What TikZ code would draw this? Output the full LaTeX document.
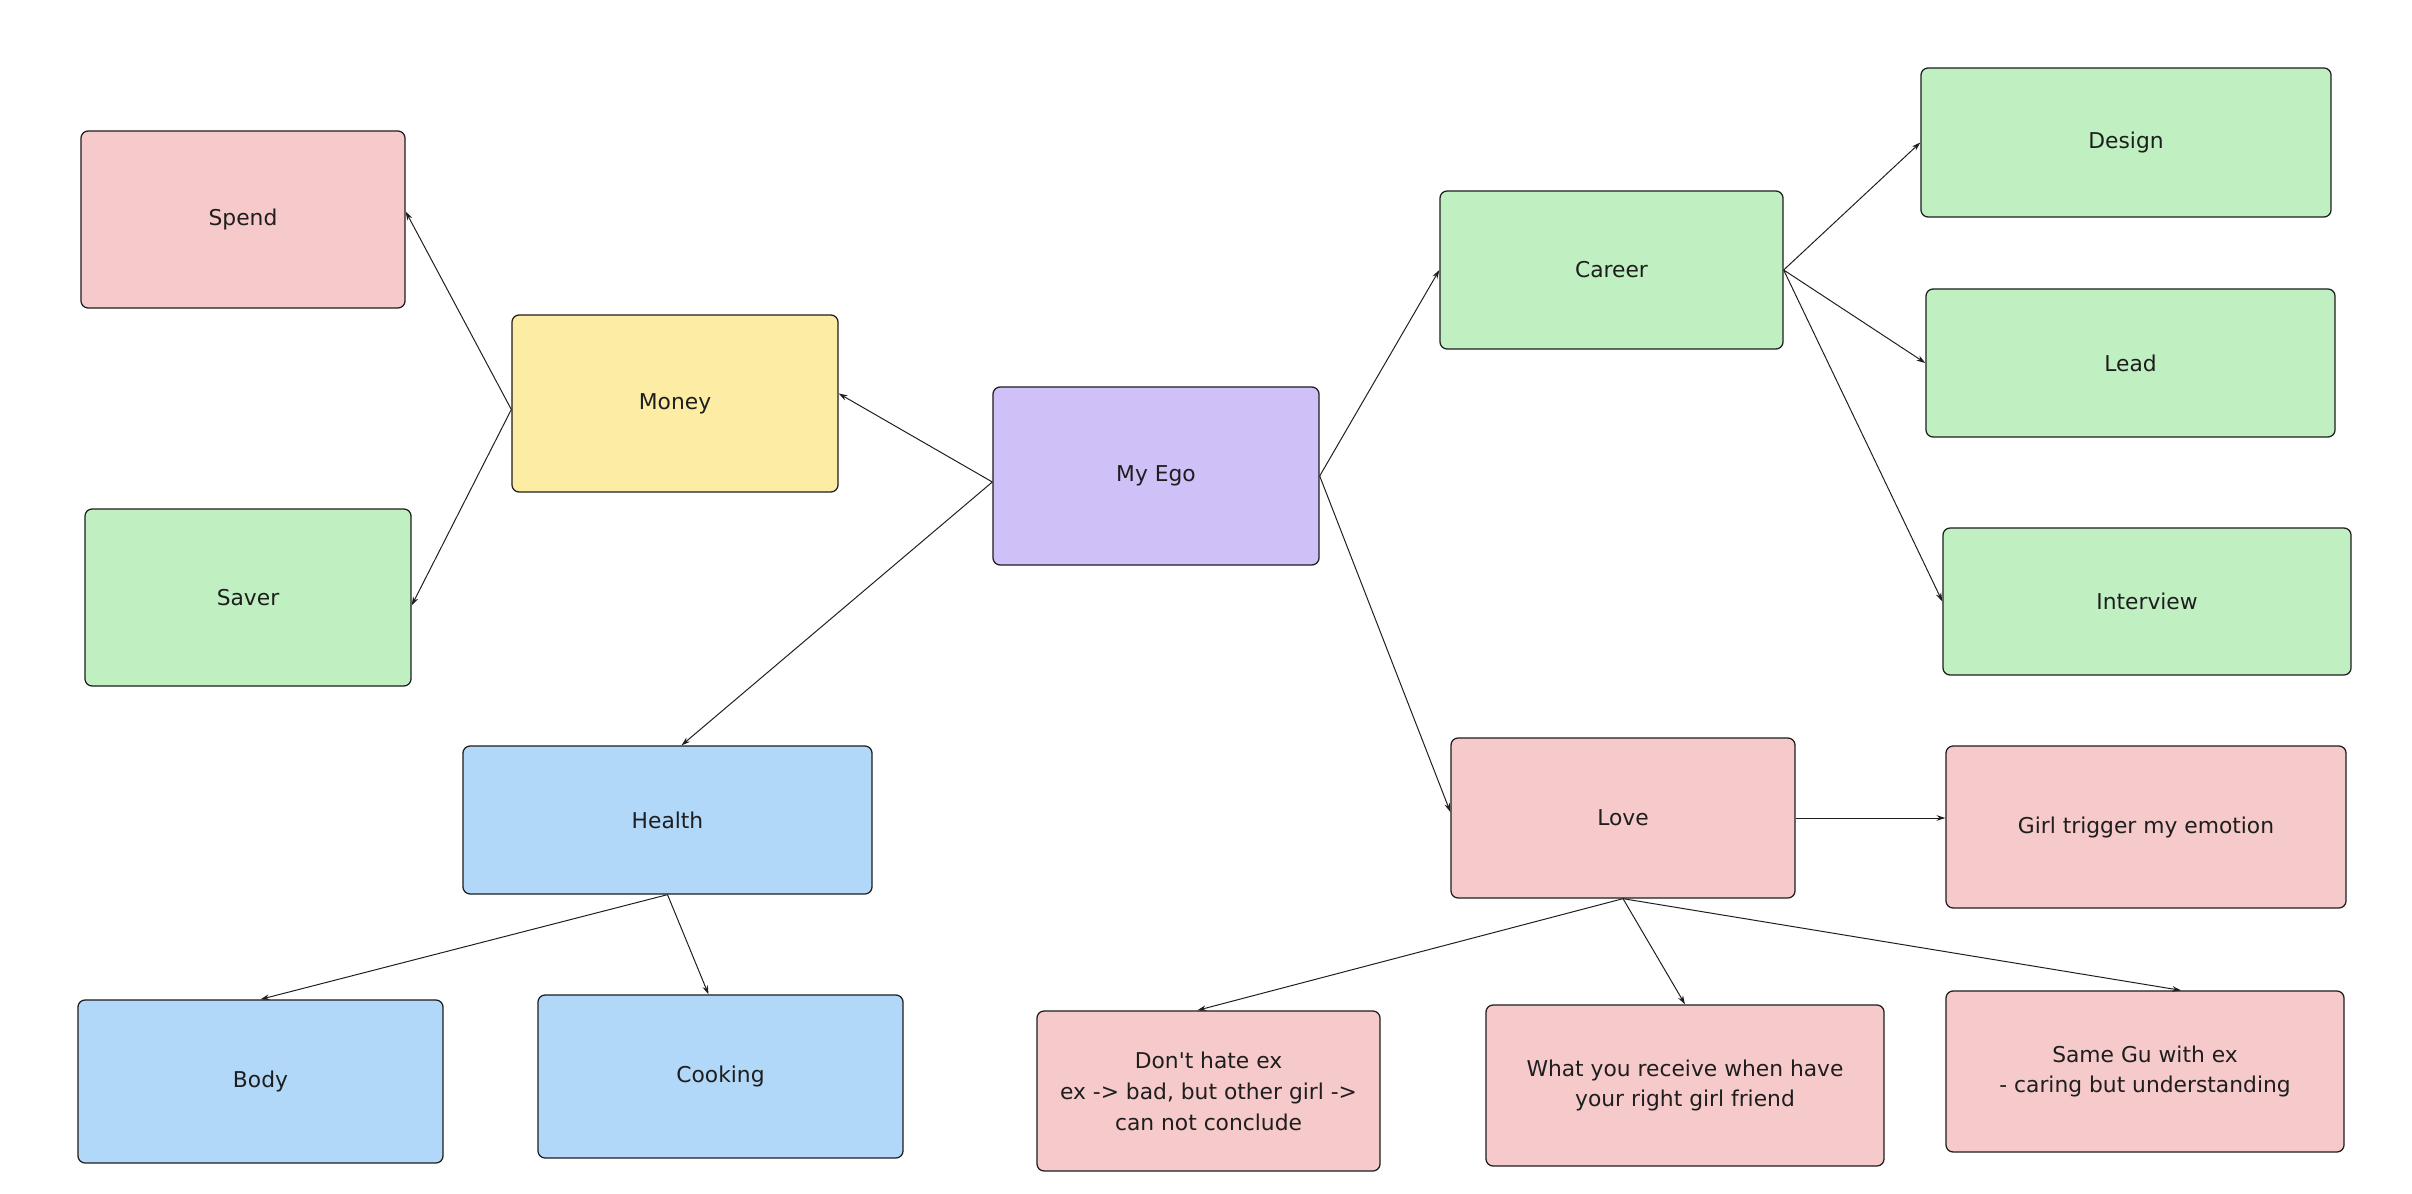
\documentclass[tikz,border=0pt]{standalone}
\usepackage{fontspec}
\setmainfont{DejaVu Sans}
\usetikzlibrary{arrows.meta}
\definecolor{cpurple}{HTML}{CFC1F8}
\definecolor{cgreen}{HTML}{C0F0C2}
\definecolor{cpink}{HTML}{F6CACA}
\definecolor{cyellow}{HTML}{FCECA4}
\definecolor{cblue}{HTML}{B1D7F9}
\definecolor{cline}{HTML}{1E1E1E}
\tikzset{
  box/.style={draw=cline, line width=0.9pt, rounded corners=0.18cm, align=center,
    inner sep=0pt, font=\fontsize{15.5}{22}\selectfont, text=cline},
  conn/.style={draw=cline, line width=0.7pt, -{Stealth[length=0.22cm,width=0.14cm]}}
}
\begin{document}
\begin{tikzpicture}[x=0.025cm,y=-0.025cm]
\useasboundingbox[fill=white] (0,0) rectangle (2412,1194);
\node[box, fill=cpink, minimum width=8.1cm, minimum height=4.425cm] (spend) at (243,219.5) {Spend};
\node[box, fill=cyellow, minimum width=8.15cm, minimum height=4.425cm] (money) at (675,403.5) {Money};
\node[box, fill=cgreen, minimum width=8.15cm, minimum height=4.425cm] (saver) at (248,597.5) {Saver};
\node[box, fill=cpurple, minimum width=8.15cm, minimum height=4.45cm] (ego) at (1156,476) {My Ego};
\node[box, fill=cgreen, minimum width=8.575cm, minimum height=3.95cm] (career) at (1611.5,270) {Career};
\node[box, fill=cgreen, minimum width=10.25cm, minimum height=3.725cm] (design) at (2126,142.5) {Design};
\node[box, fill=cgreen, minimum width=10.225cm, minimum height=3.7cm] (lead) at (2130.5,363) {Lead};
\node[box, fill=cgreen, minimum width=10.2cm, minimum height=3.675cm] (interview) at (2147,601.5) {Interview};
\node[box, fill=cblue, minimum width=10.225cm, minimum height=3.7cm] (health) at (667.5,820) {Health};
\node[box, fill=cblue, minimum width=9.125cm, minimum height=4.075cm] (body) at (260.5,1081.5) {Body};
\node[box, fill=cblue, minimum width=9.125cm, minimum height=4.075cm] (cooking) at (720.5,1076.5) {Cooking};
\node[box, fill=cpink, minimum width=8.6cm, minimum height=4.0cm] (love) at (1623,818) {Love};
\node[box, fill=cpink, minimum width=10.0cm, minimum height=4.05cm] (girl) at (2146,827) {Girl trigger my emotion};
\node[box, fill=cpink, minimum width=8.575cm, minimum height=4.0cm] (donthate) at (1208.5,1091) {Don\textquotesingle t hate ex\\ex -> bad, but other girl ->\\can not conclude};
\node[box, fill=cpink, minimum width=9.95cm, minimum height=4.025cm] (receive) at (1685,1085.5) {What you receive when have\\your right girl friend};
\node[box, fill=cpink, minimum width=9.95cm, minimum height=4.025cm] (samegu) at (2145,1071.5) {Same Gu with ex\\- caring but understanding};
% connectors
\draw[conn] ([yshift=-0.15cm]ego.west) -- ([yshift=0.25cm]money.east);
\draw[conn] ([yshift=-0.15cm]ego.west) -- ([xshift=0.35cm]health.north);
\draw[conn] ([yshift=-0.15cm]money.west) -- ([yshift=0.2cm]spend.east);
\draw[conn] ([yshift=-0.15cm]money.west) -- ([yshift=-0.2cm]saver.east);
\draw[conn] (ego.east) -- (career.west);
\draw[conn] (ego.east) -- ([yshift=0.15cm]love.west);
\draw[conn] (career.east) -- (design.west);
\draw[conn] (career.east) -- (lead.west);
\draw[conn] (career.east) -- (interview.west);
\draw[conn] (love.east) -- (girl.west |- love.east);
\draw[conn] (love.south) -- ([xshift=-0.28cm]donthate.north);
\draw[conn] (love.south) -- (receive.north);
\draw[conn] (love.south) -- ([xshift=0.9cm]samegu.north);
\draw[conn] (health.south) -- (body.north);
\draw[conn] (health.south) -- ([xshift=-0.3cm]cooking.north);
\end{tikzpicture}
\end{document}
